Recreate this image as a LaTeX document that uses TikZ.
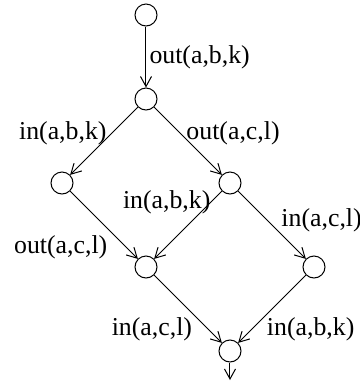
\documentclass[tikz,border=0pt]{standalone}
\usepackage{fontspec}
\setmainfont{Liberation Serif}
\usetikzlibrary{arrows.meta,positioning}

\begin{document}
\begin{tikzpicture}[x=0.5pt,y=0.5pt,
    node distance=42pt and 42pt, on grid,
    state/.style={circle,draw,minimum size=11pt,inner sep=0pt},
    lbl/.style={font=\fontsize{12.9}{15}\selectfont,inner sep=1.5pt},
    >={Straight Barb[length=5pt,width=5.5pt]}, line width=0.5pt]
  \useasboundingbox (0,0) rectangle (360,-387);
  % states
  \node[state] (s0) at (146,-15) {};
  \node[state,below=of s0] (s1) {};
  \node[state,below left=of s1] (s2) {};
  \node[state,below right=of s1] (s3) {};
  \node[state,below right=of s2] (s4) {};
  \node[state,below right=of s3] (s5) {};
  \node[state,below right=of s4] (s6) {};
  \coordinate[below=14.5pt of s6] (out);
  % transitions
  \draw[->] (s0) -- node[lbl,right] {out(a,b,k)} (s1);
  \draw[->] (s1) -- node[lbl,above left,xshift=3pt,yshift=-3.5pt] {in(a,b,k)} (s2);
  \draw[->] (s1) -- node[lbl,above right,xshift=-2.5pt,yshift=-3.5pt] {out(a,c,l)} (s3);
  \draw[->] (s3) -- node[lbl,pos=0.25,above left,xshift=4.5pt,yshift=-4.5pt] {in(a,b,k)} (s4);
  \draw[->] (s3) -- node[lbl,above right,xshift=3pt,yshift=-5pt] {in(a,c,l)} (s5);
  \draw[->] (s2) -- node[lbl,pos=0.6,below left] {out(a,c,l)} (s4);
  \draw[->] (s4) -- node[lbl,pos=0.7,below left,xshift=-3pt,yshift=4pt] {in(a,c,l)} (s6);
  \draw[->] (s5) -- node[lbl,pos=0.7,below right,xshift=2.5pt,yshift=4pt] {in(a,b,k)} (s6);
  \draw[->] (s6) -- (out);
\end{tikzpicture}
\end{document}
